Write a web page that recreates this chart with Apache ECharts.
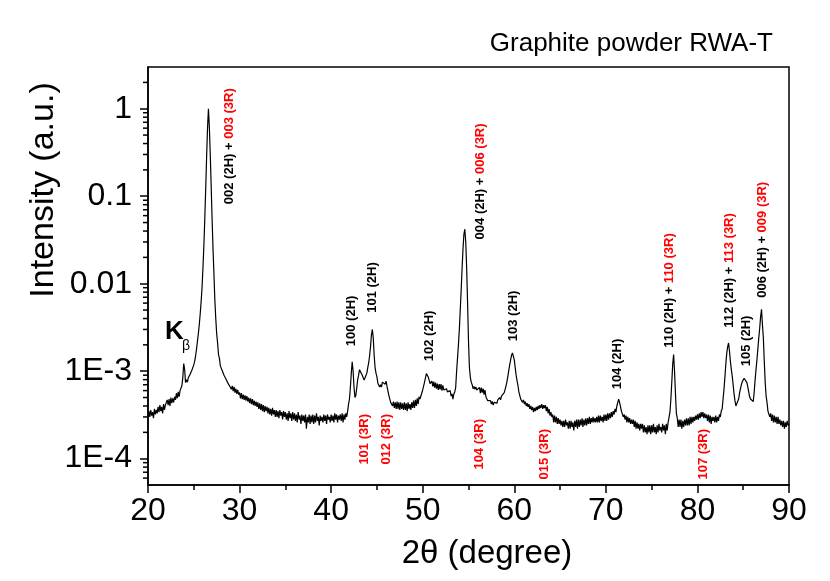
<!DOCTYPE html>
<html><head><meta charset="utf-8">
<script src="https://cdn.jsdelivr.net/npm/echarts@6/dist/echarts.min.js"></script>
<style>html,body{margin:0;padding:0;background:#fff}#c{width:830px;height:581px}</style>
</head><body><div id="c"></div>
<script>
// ---- data ----
const chartTitle = 'Graphite powder RWA-T';
const xAxisTitle = '2θ (degree)';
const yAxisTitle = 'Intensity (a.u.)';
const scanStart = 20;      // 2θ of first point
const scanStep = 0.1;      // 2θ step inside each row (each row = one degree)
// intensity x 1e4 (a.u.), one row per degree: 20.0..20.9, 21.0..21.9, ... , 90.0
const intensityE4 = [
 [2.9,3.5,3.0,3.6,3.1,3.4,2.9,3.7,3.2,3.6],
 [3.3,3.9,3.4,4.1,3.5,3.9,3.3,4.2,3.6,4.1],
 [3.9,4.7,4.1,4.8,4.0,5.0,4.3,4.9,4.4,5.1],
 [4.7,5.6,4.9,5.8,5.1,6.0,5.9,6.8,8.4,12.2],
 [10.5,7.4,8.0,7.5,8.4,8.0,9.2,8.9,10.3,10.6],
 [11.8,13,15,18,22,27,34,45,62,90],
 [150,270,550,1200,2800,6000,10000,6200,3000,1300],
 [550,250,130,65,40,27,21,15.5,14,11.5],
 [11.8,10.2,9.9,9.0,8.9,8.2,8.1,7.4,7.6,6.8],
 [7.0,6.2,6.8,5.9,6.6,5.7,6.3,5.5,6.1,5.4],
 [5.7,4.9,5.6,4.8,5.4,4.7,5.3,4.6,5.2,4.5],
 [5.0,4.3,4.9,4.2,4.8,4.1,4.6,4.0,4.5,3.9],
 [4.4,3.7,4.3,3.6,4.2,3.5,4.1,3.4,4.0,3.5],
 [3.9,3.3,3.8,3.2,3.7,3.1,3.8,3.2,3.6,3.0],
 [3.6,3.0,3.5,2.9,3.6,3.1,3.4,2.8,3.5,3.0],
 [3.4,2.8,3.3,2.7,3.5,2.9,3.3,2.7,3.4,2.8],
 [3.3,2.7,3.2,2.6,3.4,2.8,3.1,2.5,3.2,2.7],
 [3.1,2.6,3.2,2.2,3.0,2.6,3.2,2.5,3.1,2.6],
 [3.2,2.5,3.1,2.6,3.3,2.7,3.0,2.4,3.1,2.7],
 [3.0,2.6,3.2,2.7,3.1,2.5,3.2,2.8,3.0,2.6],
 [3.2,2.7,3.1,2.6,3.3,2.8,3.2,2.6,3.1,2.8],
 [3.2,2.7,3.3,2.6,3.2,2.8,3.3,3.0,3.5,4.2],
 [4.8,6.5,9.5,12.8,10,6.5,5.0,5.3,6.5,8.0],
 [9.0,10.4,10.0,10.6,9.0,9.2,7.9,8.4,8.2,9.5],
 [11,12.5,15,19,26,30,24,15,11,9.5],
 [8.6,7.3,7.5,6.6,7.0,6.6,7.5,7.2,7.9,7.1],
 [7.7,6.7,6.4,5.3,5.2,4.4,4.6,4.0,4.5,3.8],
 [4.4,3.7,4.5,3.7,4.4,3.6,4.4,3.7,4.3,3.6],
 [4.4,3.6,4.3,3.5,4.4,3.7,4.2,3.6,4.4,3.8],
 [4.6,3.8,4.7,4.0,4.9,4.2,5.1,4.8,5.2,5.2],
 [6.1,6.0,7.5,7.9,9.4,9.6,8.6,8.2,7.2,7.5],
 [7.7,6.7,7.6,6.5,7.4,6.3,7.2,6.1,7.1,6.2],
 [7.1,6.0,6.9,6.1,6.4,6.2,6.3,5.8,6.1,5.8],
 [6.0,5.2,5.5,4.8,5.5,5.8,6.5,10,14,20],
 [30,50,85,150,250,370,420,300,150,60],
 [22,11,8.5,7.5,7.0,6.3,6.7,6.2,6.6,6.1],
 [6.4,5.8,6.5,5.6,6.5,5.7,6.3,5.4,6.1,5.1],
 [5.3,4.6,4.8,4.4,4.6,4.2,4.5,4.1,4.4,4.2],
 [4.6,4.3,4.7,4.5,5.0,4.7,5.2,5.1,5.4,5.7],
 [6.2,6.8,7.6,8.8,10.2,11.8,13.5,15.2,16.2,15.5],
 [13.5,11,9,7.8,6.9,5.8,5.7,4.8,5.0,4.4],
 [4.7,4.2,4.5,4.0,4.3,3.9,4.2,3.7,4.0,3.6],
 [3.9,3.4,3.8,3.5,3.9,3.6,4.0,3.7,4.1,3.8],
 [4.2,3.7,4.1,3.8,4.1,3.5,3.9,3.3,3.7,3.1],
 [3.4,3.0,3.2,2.6,3.1,2.6,3.0,2.5,2.9,2.5],
 [2.8,2.4,2.7,2.3,2.7,2.3,2.8,2.4,2.6,2.2],
 [2.7,2.2,2.7,2.3,2.6,2.1,2.7,2.3,2.8,2.2],
 [2.8,2.3,2.8,2.4,2.9,2.3,2.8,2.4,2.9,2.4],
 [2.9,2.5,3.0,2.5,2.9,2.6,3.0,2.6,2.9,2.6],
 [3.0,2.6,3.1,2.6,3.1,2.7,3.0,2.6,3.2,2.7],
 [3.2,2.7,3.3,2.8,3.3,2.9,3.4,3.0,3.5,3.2],
 [3.7,3.4,4.0,4.2,4.8,4.4,4.2,3.5,3.6,3.0],
 [3.2,2.8,3.1,2.6,3.0,2.6,2.9,2.5,2.8,2.5],
 [2.8,2.3,2.7,2.2,2.6,2.2,2.5,2.1,2.5,2.2],
 [2.5,2.0,2.4,2.0,2.3,1.9,2.4,2.0,2.4,1.9],
 [2.4,2.0,2.5,2.0,2.3,1.9,2.4,2.0,2.5,2.1],
 [2.3,2.0,2.5,2.1,2.4,1.9,2.5,2.1,2.6,2.7],
 [3.4,4.8,7.5,12,15.5,10,5.6,3.3,2.9,2.3],
 [2.8,2.3,2.8,2.2,2.7,2.3,2.8,2.4,2.9,2.4],
 [2.9,2.4,3.0,2.5,3.0,2.6,3.0,2.7,3.1,2.8],
 [3.2,2.8,3.3,2.9,3.4,3.0,3.4,2.9,3.3,2.9],
 [3.2,2.7,3.2,2.6,3.1,2.5,3.0,2.7,3.0,2.6],
 [3.1,2.6,3.0,2.7,3.2,3.0,3.5,3.7,4.8,6.2],
 [8.5,12,16,19,21,17,13,10.5,8.8,7.0],
 [5.5,4.6,4.0,3.8,4.2,4.8,5.6,6.3,7.0,7.6],
 [8.0,8.3,8.4,8.1,7.4,6.6,5.8,5.1,4.8,4.6],
 [4.6,4.5,5.8,8.0,10.5,13.5,18,24,31,42],
 [51,34,24,13,7.5,5.2,4.4,3.5,3.6,3.0],
 [3.3,2.7,3.2,2.6,3.1,2.6,3.0,2.5,3.0,2.5],
 [2.8,2.4,2.7,2.3,2.7,2.2,2.6,2.3,2.7,2.4],
 [2.5]
];
const yTickValues = [1e-4, 1e-3, 0.01, 0.1, 1];
const yTickLabels = ['1E-4', '1E-3', '0.01', '0.1', '1'];
const yMinorTicks = [6e-5,7e-5,8e-5,9e-5,
 2e-4,3e-4,4e-4,5e-4,6e-4,7e-4,8e-4,9e-4,
 2e-3,3e-3,4e-3,5e-3,6e-3,7e-3,8e-3,9e-3,
 0.02,0.03,0.04,0.05,0.06,0.07,0.08,0.09,
 0.2,0.3,0.4,0.5,0.6,0.7,0.8,0.9, 2];
// peak annotations: anchor (text start) in data coords, text pieces [text, colourKey]
const labelTheta = [28.85, 42.2, 44.5, 50.7, 56.35, 59.95, 71.3, 76.9, 83.45, 85.3, 87.05, 43.6, 46.0, 56.15, 63.25, 80.7];
const labelInt   = [0.081, 1.93e-3, 4.65e-3, 1.3e-3, 0.0321, 2.2e-3, 6.2e-4, 1.85e-3, 3.14e-3, 1.14e-3, 6.9e-3, 8.55e-5, 8.55e-5, 7.5e-5, 5.77e-5, 5.77e-5];
const labelParts = [
 [['002 (2H) + ','k'],['003 (3R)','r']],
 [['100 (2H)','k']],
 [['101 (2H)','k']],
 [['102 (2H)','k']],
 [['004 (2H) + ','k'],['006 (3R)','r']],
 [['103 (2H)','k']],
 [['104 (2H)','k']],
 [['110 (2H) + ','k'],['110 (3R)','r']],
 [['112 (2H) + ','k'],['113 (3R)','r']],
 [['105 (2H)','k']],
 [['006 (2H) + ','k'],['009 (3R)','r']],
 [['101 (3R)','r']],
 [['012 (3R)','r']],
 [['104 (3R)','r']],
 [['015 (3R)','r']],
 [['107 (3R)','r']]
];
const kbetaAnchor = {K: [21.86, 2.8e-3], beta: [23.71, 1.92e-3]};

// ---- build ----
const FONT = 'Liberation Sans, Arial, Helvetica, sans-serif';
const lineData = [];
intensityE4.forEach((row, r) => row.forEach((v, c) => {
  lineData.push([+(scanStart + r + c * scanStep).toFixed(1), v * 1e-4]);
}));
const annData = labelTheta.map((x, i) => ({
  value: [x, labelInt[i]],
  label: {formatter: labelParts[i].map(p => '{' + p[1] + '|' + p[0] + '}').join('')}
}));
annData.push({value: kbetaAnchor.K, label: {formatter: '{kb|K}', rotate: 0}});
annData.push({value: kbetaAnchor.beta, label: {formatter: '{sub|β}', rotate: 0}});

const chart = echarts.init(document.getElementById('c'), null, {renderer: 'canvas'});
chart.setOption({
  animation: false,
  backgroundColor: '#fff',
  title: {text: chartTitle, right: 57, top: 31, padding: 0,
    textStyle: {fontSize: 26, fontWeight: 'normal', color: '#000', fontFamily: FONT}},
  grid: {left: 148, right: 41, top: 67, bottom: 96, show: true, borderColor: '#000', borderWidth: 1.5},
  graphic: [
    {type: 'text', x: 44, y: 190, rotation: Math.PI / 2, silent: true,
      style: {text: yAxisTitle, font: '34px ' + FONT, fill: '#000',
        align: 'center', verticalAlign: 'middle', textAlign: 'center', textVerticalAlign: 'middle'}},
    {type: 'text', x: 487, y: 554, silent: true,
      style: {text: xAxisTitle, font: '33px ' + FONT, fill: '#000',
        align: 'center', verticalAlign: 'middle', textAlign: 'center', textVerticalAlign: 'middle'}}
  ],
  xAxis: {type: 'value', min: 20, max: 90, interval: 10,
    axisLine: {lineStyle: {color: '#000', width: 1.5}},
    axisTick: {length: 8, lineStyle: {color: '#000', width: 1.5}},
    minorTick: {show: true, splitNumber: 2, length: 5, lineStyle: {color: '#000', width: 1.5}},
    splitLine: {show: false}, minorSplitLine: {show: false},
    axisLabel: {fontSize: 32, color: '#000', margin: 10, fontFamily: FONT}},
  yAxis: {type: 'log', logBase: 10, min: 5e-5, max: 3,
    axisLine: {lineStyle: {color: '#000', width: 1.5}},
    axisTick: {length: 8, lineStyle: {color: '#000', width: 1.5}},
    splitLine: {show: false},
    axisLabel: {fontSize: 32, color: '#000', margin: 16, fontFamily: FONT,
      showMinLabel: false, showMaxLabel: false,
      formatter: v => {
        for (let i = 0; i < yTickValues.length; i++) {
          if (Math.abs(Math.log10(v) - Math.log10(yTickValues[i])) < 1e-6) return yTickLabels[i];
        }
        return '';
      }}},
  series: [
    {type: 'line', data: lineData, showSymbol: false, symbol: 'none',
      lineStyle: {color: '#000', width: 1.2}, z: 3, clip: true},
    {type: 'custom', clip: false, silent: true, z: 4,
      data: yMinorTicks.map(v => [20, v]),
      renderItem: (params, api) => {
        const p = api.coord([api.value(0), api.value(1)]);
        return {type: 'line', shape: {x1: p[0] - 5, y1: p[1], x2: p[0], y2: p[1]},
          style: {stroke: '#000', lineWidth: 1.5}};
      }},
    {type: 'scatter', data: annData, symbolSize: 1, silent: true, z: 5,
      itemStyle: {color: 'rgba(0,0,0,0)', opacity: 1},
      label: {show: true, position: 'inside', rotate: 90, align: 'left', verticalAlign: 'middle',
        opacity: 1, textBorderWidth: 0,
        rich: {
          k: {color: '#000', fontWeight: 'bold', fontSize: 13, fontFamily: FONT},
          r: {color: '#ff0000', fontWeight: 'bold', fontSize: 13, fontFamily: FONT},
          kb: {color: '#000', fontWeight: 'bold', fontSize: 26, fontFamily: FONT},
          sub: {color: '#000', fontWeight: 'normal', fontSize: 14, fontFamily: FONT}
        }}}
  ]
});
</script></body></html>
